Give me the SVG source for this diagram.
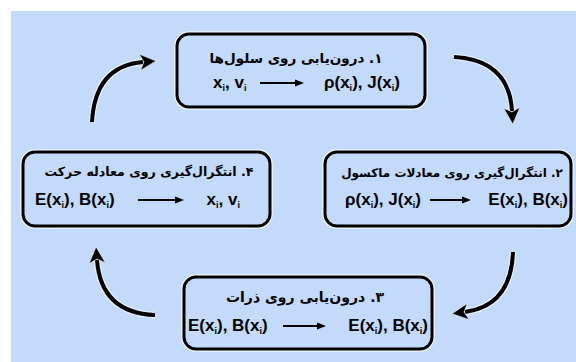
<svg xmlns="http://www.w3.org/2000/svg" width="576" height="362" viewBox="0 0 576 362">
<defs>
<marker id="ah" markerUnits="userSpaceOnUse" markerWidth="22" markerHeight="22" viewBox="-2 -11 22 22" refX="3" refY="0" orient="auto">
<path d="M0,-8 L16,0 L0,8 L4,0 Z" fill="#000" stroke="#fff" stroke-width="0.8" stroke-opacity="0.6"/>
</marker>
<marker id="sh" markerUnits="userSpaceOnUse" markerWidth="12" markerHeight="12" viewBox="0 -6 12 12" refX="1" refY="0" orient="auto">
<path d="M0,-3.5 L9,0 L0,3.5 Z" fill="#000"/>
</marker>
</defs>
<style>
.bg{fill:#c3dafa}
.box{fill:#c3dafa;stroke:#000;stroke-width:3}
.halo{fill:none;stroke:#fff;stroke-width:5.5;stroke-opacity:.75}
.fa{font-family:"DejaVu Sans",sans-serif;font-weight:bold;font-size:12px;direction:rtl;text-anchor:middle;fill:#000}
.en{font-family:"Liberation Sans",Arial,sans-serif;font-weight:bold;font-size:17px;fill:#000}
.end{text-anchor:end}
.sub{font-size:9px}
.ar{stroke:#000;stroke-width:4;fill:none;marker-end:url(#ah)}
.arh{stroke:#fff;stroke-width:6.5;fill:none;stroke-opacity:.6}
.ia{stroke:#000;stroke-width:1.8;marker-end:url(#sh)}
</style>
<rect class="bg" x="11" y="11" width="565" height="351"/>

<g id="node1">
<rect class="halo" x="177" y="34" width="248" height="73" rx="12"/>
<rect class="box" x="177" y="34" width="248" height="73" rx="12"/>
<text class="fa" x="296" y="63" style="font-size:13.5px">۱. درون‌یابی روی سلول‌ها</text>
<text class="en" x="213" y="88">x<tspan class="sub" dy="3">i</tspan><tspan dy="-3">, v</tspan><tspan class="sub" dy="3">i</tspan></text>
<line class="ia" x1="260" y1="83" x2="296" y2="83"/>
<text class="en end" x="400" y="88">ρ(x<tspan class="sub" dy="3">i</tspan><tspan dy="-3">), J(x</tspan><tspan class="sub" dy="3">i</tspan><tspan dy="-3">)</tspan></text>
</g>

<g id="node2">
<rect class="halo" x="325" y="152" width="246" height="74" rx="12"/>
<rect class="box" x="325" y="152" width="246" height="74" rx="12"/>
<text class="fa" x="452" y="177">۲. انتگرال‌گیری روی معادلات ماکسول</text>
<text class="en" x="345" y="205">ρ(x<tspan class="sub" dy="3">i</tspan><tspan dy="-3">), J(x</tspan><tspan class="sub" dy="3">i</tspan><tspan dy="-3">)</tspan></text>
<line class="ia" x1="430" y1="200" x2="463" y2="200"/>
<text class="en end" x="568" y="205">E(x<tspan class="sub" dy="3">i</tspan><tspan dy="-3">), B(x</tspan><tspan class="sub" dy="3">i</tspan><tspan dy="-3">)</tspan></text>
</g>

<g id="node3">
<rect class="halo" x="184" y="277" width="248" height="72" rx="12"/>
<rect class="box" x="184" y="277" width="248" height="72" rx="12"/>
<text class="fa" x="305" y="302" style="font-size:14px">۳. درون‌یابی روی ذرات</text>
<text class="en" x="188" y="331">E(x<tspan class="sub" dy="3">i</tspan><tspan dy="-3">), B(x</tspan><tspan class="sub" dy="3">i</tspan><tspan dy="-3">)</tspan></text>
<line class="ia" x1="283" y1="326" x2="318" y2="326"/>
<text class="en end" x="428" y="331">E(x<tspan class="sub" dy="3">i</tspan><tspan dy="-3">), B(x</tspan><tspan class="sub" dy="3">i</tspan><tspan dy="-3">)</tspan></text>
</g>

<g id="node4">
<rect class="halo" x="23" y="152" width="247" height="74" rx="12"/>
<rect class="box" x="23" y="152" width="247" height="74" rx="12"/>
<text class="fa" x="149" y="176" style="font-size:12.6px">۴. انتگرال‌گیری روی معادله حرکت</text>
<text class="en" x="35" y="205">E(x<tspan class="sub" dy="3">i</tspan><tspan dy="-3">), B(x</tspan><tspan class="sub" dy="3">i</tspan><tspan dy="-3">)</tspan></text>
<line class="ia" x1="138" y1="200" x2="176" y2="200"/>
<text class="en end" x="240" y="205">x<tspan class="sub" dy="3">i</tspan><tspan dy="-3">, v</tspan><tspan class="sub" dy="3">i</tspan></text>
</g>

<g id="connectors">
<path class="arh" d="M92,122 Q95,66 143,62"/>
<path class="ar" d="M92,122 Q95,66 143,62"/>
<path class="arh" d="M454,57 Q509,60 512,111"/>
<path class="ar" d="M454,57 Q509,60 512,111"/>
<path class="arh" d="M513,252 Q511,306 465,312"/>
<path class="ar" d="M513,252 Q511,306 465,312"/>
<path class="arh" d="M155,315 Q101,313 97,260"/>
<path class="ar" d="M155,315 Q101,313 97,260"/>
</g>
</svg>
